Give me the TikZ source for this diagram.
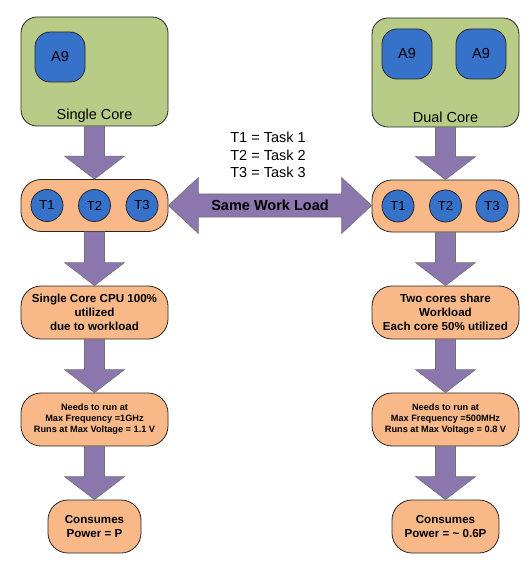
\documentclass[tikz,border=0pt]{standalone}
\usepackage{fontspec}
\setmainfont{Liberation Sans}
\usetikzlibrary{calc}

\definecolor{coregreen}{HTML}{B8CC88}
\definecolor{coreblue}{HTML}{3672C9}
\definecolor{taskorange}{HTML}{F8B888}
\definecolor{flowpurple}{HTML}{8B76AD}

\tikzset{
  corebox/.style={draw=black!85, line width=0.8pt, fill=coregreen, rounded corners=16pt,
    minimum width=147pt, minimum height=109pt},
  cpubox/.style={draw=black!85, line width=0.8pt, fill=coreblue, rounded corners=15pt,
    minimum size=50pt, inner sep=0pt, font=\fontsize{14.5}{17}\selectfont},
  taskdot/.style={circle, draw=black!85, line width=0.8pt, fill=coreblue, minimum size=32pt,
    inner sep=0pt, font=\fontsize{13}{15}\selectfont},
  stagebox/.style={draw=black!85, line width=0.8pt, fill=taskorange, rounded corners=20pt,
    minimum width=147pt, minimum height=53pt, align=center, inner sep=0pt},
  bigtxt/.style={font=\bfseries\fontsize{11.6}{14.3}\selectfont},
  smalltxt/.style={font=\bfseries\fontsize{9.2}{11}\selectfont},
  flow/.style={draw=black!55, line width=0.6pt, fill=flowpurple, line join=miter},
}

% mũi tên khối đi xuống
\newcommand{\fatarrow}[2]{%
  \draw[flow] let \p1=(#1.south), \p2=(#2.north) in
    (\x1-10pt,\y1) -- (\x1-10pt,\y2+23pt) -- (\x1-30pt,\y2+23pt) -- (\x1,\y2)
    -- (\x1+30pt,\y2+23pt) -- (\x1+10pt,\y2+23pt) -- (\x1+10pt,\y1) -- cycle;}

\begin{document}
\begin{tikzpicture}[x=1pt, y=-1pt]
    \useasboundingbox (0,0) rectangle (531,569);

    % Lõi đơn
    \node[corebox] (sc) at (94.5,71.5) {};
    \node[cpubox] (sa) at (60,57) {A9};
    \node[font=\fontsize{14.5}{17}\selectfont] (sclbl) at (94.5,116) {Single Core};

    % Lõi kép
    \node[corebox] (dc) at (445.5,72.5) {};
    \node[cpubox] (da) at (407,54) {A9};
    \node[cpubox] (db) at (481,54) {A9};
    \node[font=\fontsize{14.5}{17}\selectfont] (dclbl) at (445.5,117) {Dual Core};

    % Các tác vụ
    \node[stagebox, minimum height=52pt] (lt) at (94.5,205.5) {};
    \node[stagebox, minimum height=52pt] (rt) at (445.5,206) {};
    \foreach \n/\x in {1/47,2/94.5,3/142} {
        \node[taskdot] (lt\n) at (\x,205.5) {T\n};
    }
    \foreach \n/\x in {1/398,2/445.5,3/492} {
        \node[taskdot] (rt\n) at (\x,206) {T\n};
    }
    \node[align=center, font=\fontsize{14.5}{17.5}\selectfont] (legend) at (268,155)
        {T1 = Task 1\\T2 = Task 2\\T3 = Task 3};

    % Cột trái
    \node[stagebox, bigtxt] (l2) at (94.5,312.5) {Single Core CPU 100\%\\utilized\\due to workload};
    \node[stagebox, smalltxt] (l3) at (94.5,419.5) {Needs to run at\\Max Frequency =1GHz\\Runs at Max Voltage = 1.1 V};
    \node[stagebox, bigtxt, minimum width=93pt] (l4) at (94.5,526.5) {Consumes\\Power = P};

    % Cột phải
    \node[stagebox, bigtxt] (r2) at (445.5,312.5) {Two cores share\\Workload\\Each core 50\% utilized};
    \node[stagebox, smalltxt] (r3) at (445.5,419.5) {Needs to run at\\Max Frequency =500MHz\\Runs at Max Voltage = 0.8 V};
    \node[stagebox, bigtxt, minimum width=107pt] (r4) at (445.5,526.5) {Consumes\\Power = \textasciitilde{} 0.6P};

    % Mũi tên
    \fatarrow{sc}{lt}
    \fatarrow{lt}{l2}
    \fatarrow{l2}{l3}
    \fatarrow{l3}{l4}
    \fatarrow{dc}{rt}
    \fatarrow{rt}{r2}
    \fatarrow{r2}{r3}
    \fatarrow{r3}{r4}

    % Mũi tên hai chiều
    \draw[flow] let \p1=(lt.east), \p2=(rt.west) in
        (\x1,\y1) -- (\x1+30pt,\y1+28pt) -- (\x1+30pt,\y1+11.5pt) -- (\x2-30pt,\y1+11.5pt)
        -- (\x2-30pt,\y1+28pt) -- (\x2,\y1) -- (\x2-30pt,\y1-28pt) -- (\x2-30pt,\y1-11.5pt)
        -- (\x1+30pt,\y1-11.5pt) -- (\x1+30pt,\y1-28pt) -- cycle;
    \node[font=\bfseries\fontsize{14.5}{17}\selectfont] (swl) at (270,205.5) {Same Work Load};
\end{tikzpicture}
\end{document}
